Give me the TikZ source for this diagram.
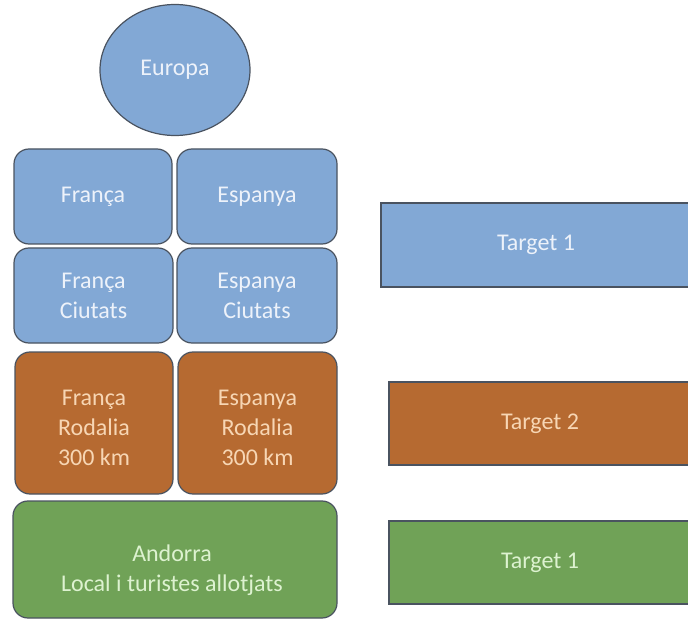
\documentclass[tikz,border=0pt]{standalone}
\usepackage{fontspec}
\setmainfont{Carlito}
\usetikzlibrary{shapes.geometric}
\definecolor{bluefill}{HTML}{82A8D5}
\definecolor{bluetext}{HTML}{EDF2FA}
\definecolor{orangefill}{HTML}{B66A31}
\definecolor{orangetext}{HTML}{F7D6B4}
\definecolor{greenfill}{HTML}{70A257}
\definecolor{greentext}{HTML}{DDF2D0}
\definecolor{edgegray}{HTML}{4A5360}
\tikzset{
  words/.style={align=center, inner sep=0pt, font=\fontsize{24}{30}\selectfont},
  base/.style={words, draw=edgegray, line width=1.2pt},
  card/.style={base, rectangle, rounded corners=15pt},
  bar/.style={base, rectangle},
  blue/.style={fill=bluefill, text=bluetext},
  orange/.style={fill=orangefill, text=orangetext},
  green/.style={fill=greenfill, text=greentext},
}
\begin{document}
\begin{tikzpicture}[x=1pt,y=-1pt]
  \useasboundingbox (0,0) rectangle (688,620);
  % top level
  \node[base, ellipse, blue, minimum width=150pt, minimum height=131pt] (europa) at (175,70) {Europa};
  % countries
  \node[card, blue, minimum width=158pt, minimum height=95pt] (franca) at (93,196.5) {França};
  \node[card, blue, minimum width=160pt, minimum height=95pt] (espanya) at (257,196.5) {Espanya};
  % cities
  \node[card, blue, minimum width=159pt, minimum height=95pt] (francac) at (93.5,295.5) {França\\Ciutats};
  \node[card, blue, minimum width=160pt, minimum height=95pt] (espanyac) at (257,295.5) {Espanya\\Ciutats};
  % surroundings (text sits a little below the box centre)
  \node[card, orange, minimum width=158pt, minimum height=142pt] (francar) at (94,423) {};
  \node[card, orange, minimum width=159pt, minimum height=142pt] (espanyar) at (257.5,423) {};
  \node[words, text=orangetext] (francartext) at ([yshift=-5pt]francar.center) {França\\Rodalia\\300 km};
  \node[words, text=orangetext] (espanyartext) at ([yshift=-5pt]espanyar.center) {Espanya\\Rodalia\\300 km};
  % local
  \node[card, green, minimum width=324pt, minimum height=117pt] (andorra) at (175,559.5) {};
  \node[words, text=greentext] (andorratext) at ([xshift=-3pt,yshift=-11pt]andorra.center) {Andorra\\Local i turistes allotjats};
  % targets
  \node[bar, blue, minimum width=310pt, minimum height=84pt] (t1) at (536,245) {Target 1};
  \node[bar, orange, minimum width=302pt, minimum height=83pt] (t2) at (540,423.5) {Target 2};
  \node[bar, green, minimum width=302pt, minimum height=83pt] (t3) at (540,562.5) {Target 1};
\end{tikzpicture}
\end{document}
